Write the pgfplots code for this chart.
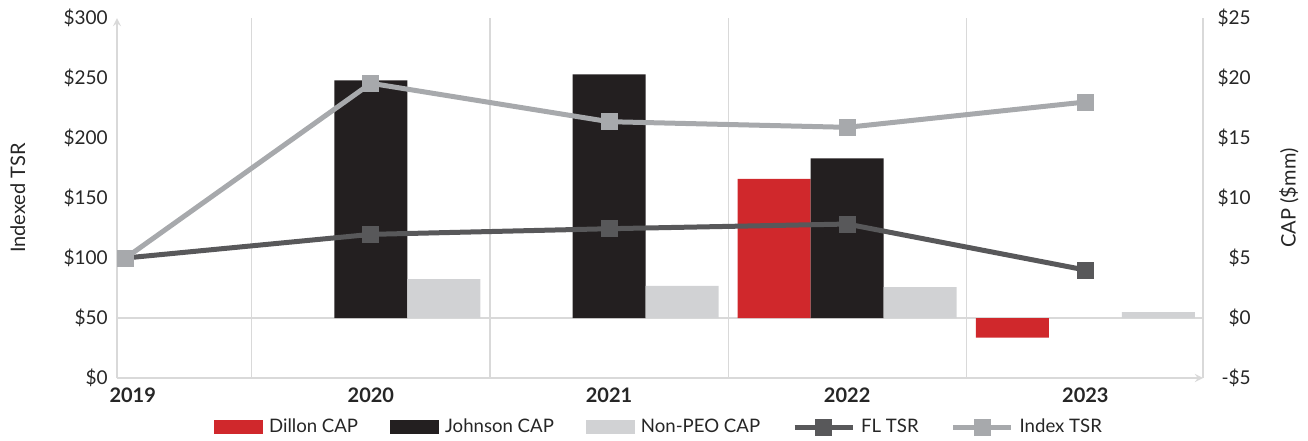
\documentclass[border=0pt]{standalone}
\usepackage{fontspec}
\setmainfont{Lato}
\usepackage{pgfplots}
\pgfplotsset{compat=1.18}

\definecolor{dillon}{HTML}{D0282C}
\definecolor{johnson}{HTML}{231F20}
\definecolor{nonpeo}{HTML}{D1D2D4}
\definecolor{fltsr}{HTML}{58585A}
\definecolor{indextsr}{HTML}{A7A9AC}
\definecolor{axgray}{HTML}{D9D9D9}

\pgfplotsset{
  barleg/.style={legend image code/.code={\fill[##1, draw=none] (0pt,-3.5pt) rectangle (24.5pt,3.5pt);}},
  lineleg/.style={legend image code/.code={\draw[mark repeat=2,mark phase=2,##1] plot coordinates {(0pt,0pt) (14.5pt,0pt) (29pt,0pt)};}},
  common/.style={
    scale only axis, width=543pt, height=180pt,
    xmin=-0.066, xmax=4.494,
    major tick length=0pt, minor tick length=0pt,
    axis line style={-, draw=axgray, line width=0.8pt},
  }
}

\begin{document}
\begin{tikzpicture}
% ---- CAP bars (right axis) ----
\begin{axis}[
  common,
  ymin=-5, ymax=25,
  axis x line=none,
  axis y line*=right,
  ytick={-5,0,5,10,15,20,25},
  yticklabels={-\$5,\$0,\$5,\$10,\$15,\$20,\$25},
  yticklabel style={anchor=east, xshift=24pt, inner sep=0pt, font=\fontsize{9.5}{11}\selectfont, text=black!85},
  ylabel={CAP (\$mm)},
  ylabel style={at={(axis description cs:1.0792,0.5)}, anchor=center, font=\fontsize{10}{12}\selectfont, text=black!85},
]
\draw[axgray, line width=0.8pt] (axis cs:-0.066,0) -- (axis cs:4.494,0);
\addplot[ybar, bar width=0.3065, bar shift=-0.3065, fill=dillon, draw=none] coordinates {(3,11.6) (4,-1.64)};
\addplot[ybar, bar width=0.3065, bar shift=0, fill=johnson, draw=none] coordinates {(1,19.8) (2,20.3) (3,13.3)};
\addplot[ybar, bar width=0.3065, bar shift=0.3065, fill=nonpeo, draw=none] coordinates {(1,3.25) (2,2.67) (3,2.58) (4,0.5)};
\end{axis}

% ---- TSR lines (left axis) ----
\begin{axis}[
  common,
  name=main,
  ymin=0, ymax=300,
  axis x line=bottom,
  axis y line=left,
  xtick={0,1,2,3,4},
  xticklabels={2019,2020,2021,2022,2023},
  xticklabel style={anchor=north, inner sep=0pt, yshift=-4.5pt, font=\fontsize{10}{12}\selectfont\bfseries, text=black!85},
  minor xtick={0.5,1.5,2.5,3.5},
  xminorgrids=true,
  minor grid style={draw=axgray, line width=0.6pt},
  ytick={0,50,100,150,200,250,300},
  yticklabels={\$0,\$50,\$100,\$150,\$200,\$250,\$300},
  yticklabel style={anchor=east, xshift=-4.5pt, inner sep=0pt, font=\fontsize{9.5}{11}\selectfont, text=black!85},
  ylabel={Indexed TSR},
  ylabel style={at={(axis description cs:-0.0912,0.5)}, anchor=center, font=\fontsize{10}{12}\selectfont, text=black!85},
  legend columns=5,
  legend style={draw=none, fill=none, at={(axis description cs:0.5,0)}, anchor=center, yshift=-24.5pt,
    font=\fontsize{9.3}{11}\selectfont, text=black!85,
    /tikz/every even column/.append style={column sep=14pt},
    /tikz/every odd column/.append style={column sep=1pt}},
  legend cell align=left,
  clip=false,
]
\addlegendimage{barleg, fill=dillon}
\addlegendentry{Dillon CAP}
\addlegendimage{barleg, fill=johnson}
\addlegendentry{Johnson CAP}
\addlegendimage{barleg, fill=nonpeo}
\addlegendentry{Non-PEO CAP}
\addplot[lineleg, fltsr, line width=2.5pt, mark=square*, mark size=3pt, mark options={solid}]
  coordinates {(-0.03,100) (1,119.7) (2,124.4) (3,128.3) (4,90)};
\addlegendentry{FL TSR}
\addplot[lineleg, indextsr, line width=2.5pt, mark=square*, mark size=3pt, mark options={solid}]
  coordinates {(-0.03,100) (1,245.6) (2,213.6) (3,208.9) (4,230)};
\addlegendentry{Index TSR}
\end{axis}

\pgfresetboundingbox
\path[use as bounding box] ([xshift=-58.5pt,yshift=-31pt]main.south west) rectangle ([xshift=52.5pt,yshift=9pt]main.north east);
\end{tikzpicture}
\end{document}
